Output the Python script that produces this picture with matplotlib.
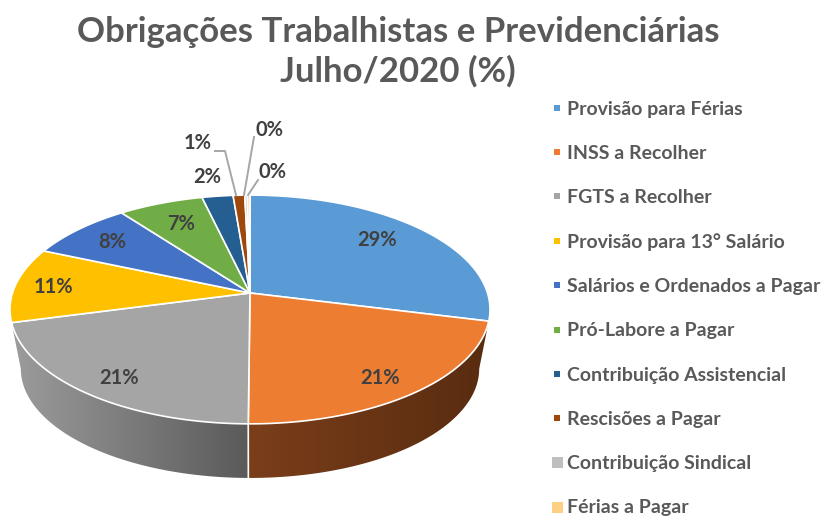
import numpy as np
import matplotlib
matplotlib.use('Agg')
import matplotlib.pyplot as plt
from matplotlib.lines import Line2D
from matplotlib.patches import Polygon

plt.rcParams['font.family'] = ['Lato', 'DejaVu Sans']

# data
categories = ['Provisão para Férias', 'INSS a Recolher', 'FGTS a Recolher',
              'Provisão para 13° Salário', 'Salários e Ordenados a Pagar',
              'Pró-Labore a Pagar', 'Contribuição Assistencial',
              'Rescisões a Pagar', 'Contribuição Sindical', 'Férias a Pagar']
values = [28.9, 21.2, 20.8, 10.6, 8.2, 6.6, 2.4, 0.9, 0.2, 0.2]
title = 'Obrigações Trabalhistas e Previdenciárias\nJulho/2020 (%)'

colors = ['#5B9BD5', '#ED7D31', '#A5A5A5', '#FFC000', '#4472C4',
          '#70AD47', '#255E91', '#9E480E', '#BFBFBF', '#FFCF84']
legend_sizes = [6, 6, 6, 6, 6, 6, 6, 6, 11, 11]

# where the percent labels sit, in pixels
label_xy = [(377, 240), (380, 378), (119, 378), (53, 287), (112, 242),
            (181, 224), (207, 177), (198, 143), (270, 130), (273, 172)]

# perspective of the disc
cx, cy = 250, 293
R, B, k = 237.5, 112, 0.144
low_s, low_dy = 0.955, 60
widest = np.degrees(np.arcsin(k))


def top_rim(theta):
    u, v = np.cos(np.radians(theta)), np.sin(np.radians(theta))
    d = 1 + k * v
    return cx + R * u / d, cy - B * v / d


def low_rim(theta):
    x, y = top_rim(theta)
    return cx + (x - cx) * low_s, cy + (y - cy) * low_s + low_dy


fig = plt.figure(figsize=(8.23, 5.17), dpi=100)
ax = fig.add_axes([0, 0, 1, 1])

# pie gives the angles, then the wedges get redrawn in perspective
wedges, _ = ax.pie(values, startangle=90, counterclock=False, colors=colors)
angles = [(w.theta1, w.theta2) for w in wedges]
for w in wedges:
    w.remove()

ax.set_aspect('auto')
ax.axis('off')


def wall(t1, t2, low1, low2, c1, c2):
    xt, yt = top_rim(np.linspace(t1, t2, 120))
    xb, yb = low_rim(np.linspace(low1, low2, 120))
    pts = np.column_stack([np.r_[xt, xb[::-1]], np.r_[yt, yb[::-1]]])
    poly = Polygon(pts, closed=True, fc='none', ec='none')
    ax.add_patch(poly)
    grad = np.linspace(0, 1, 256).reshape(1, -1)
    cmap = matplotlib.colors.LinearSegmentedColormap.from_list('w', [c1, c2])
    x0, x1 = pts[:, 0].min(), pts[:, 0].max()
    im = ax.imshow(grad, cmap=cmap, extent=[x0, x1, pts[:, 1].max(), pts[:, 1].min()],
                   aspect='auto', zorder=1)
    im.set_clip_path(poly)


# side walls, orange one and grey one
t_o1, t_o2 = angles[1]
t_g1, t_g2 = angles[2]
wall(t_o1, t_o2, t_o1, -widest, '#7A3E1A', '#592C10')
wall(t_g1, t_g2, -180 + widest, t_g2, '#9C9C9C', '#5A5A5A')
ax.set_xlim(0, 823)
ax.set_ylim(517, 0)

xa, ya = top_rim(t_g2)
xb, yb = low_rim(t_g2)
ax.plot([xa, xb], [ya, yb], color='white', lw=1.2, zorder=2)

# top face
for (t1, t2), c in zip(angles, colors):
    th = np.linspace(t1, t2, 150)
    xs, ys = top_rim(th)
    pts = np.column_stack([np.r_[cx, xs], np.r_[cy, ys]])
    ax.add_patch(Polygon(pts, closed=True, fc=c, ec='white', lw=1.2, zorder=3))

# leader lines
ax.plot([215, 225, 236], [151, 151, 195], color='#A6A6A6', lw=1.4, zorder=4)
ax.plot([254, 244], [137, 195], color='#A6A6A6', lw=1.4, zorder=4)
ax.plot([258, 248], [180, 195], color='#A6A6A6', lw=1.4, zorder=4)

for (x, y), val in zip(label_xy, values):
    ax.text(x, y, '%.0f%%' % val, ha='center', va='center', fontsize=14.5,
            fontweight='bold', color='#404040', zorder=5)

ax.text(398, 52, title, ha='center', va='center', fontsize=25, fontweight='bold',
        color='#595959', linespacing=1.25)

handles = [Line2D([], [], ls='none', marker='s', ms=s * 0.72, color=c, mew=0)
           for c, s in zip(colors, legend_sizes)]
ax.legend(handles, categories, loc='upper left', bbox_to_anchor=(548, 100.5),
          bbox_transform=ax.transData, frameon=False, borderpad=0, borderaxespad=0,
          labelspacing=1.4, labelcolor='#595959', handlelength=0.9,
          handletextpad=0.08, prop={'size': 14, 'weight': 'bold'})

fig.savefig('out.png', dpi=100)
